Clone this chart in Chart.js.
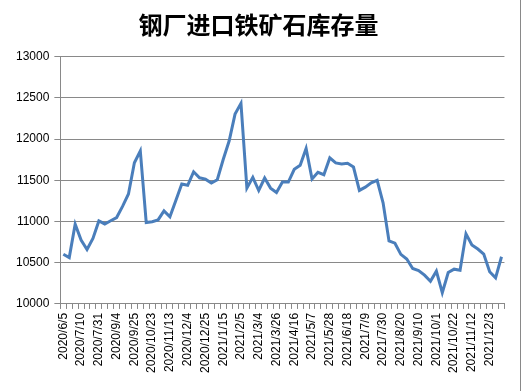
<!DOCTYPE html>
<html>
<head>
<meta charset="utf-8">
<script src="https://cdn.jsdelivr.net/npm/chart.js@4/dist/chart.umd.min.js"></script>
<style>
    html, body { margin: 0; padding: 0; background: #fff; }
    #wrap { width: 520px; height: 391px; border-right: 1px solid #898989; }
</style>
</head>
<body>
<div id="wrap"><canvas id="stock-target" width="520" height="391"></canvas></div>
<script>
// weekly dates (only every 3rd one is labelled on the axis)
const dates = [
    '2020/6/5', '2020/6/19', '2020/7/3', '2020/7/10', '2020/7/17', '2020/7/24',
    '2020/7/31', '2020/8/14', '2020/8/28', '2020/9/4', '2020/9/11', '2020/9/18',
    '2020/9/25', '2020/10/9', '2020/10/16', '2020/10/23', '2020/10/30', '2020/11/6',
    '2020/11/13', '2020/11/20', '2020/11/27', '2020/12/4', '2020/12/11', '2020/12/18',
    '2020/12/25', '2021/1/1', '2021/1/8', '2021/1/15', '2021/1/22', '2021/1/29',
    '2021/2/5', '2021/2/19', '2021/2/26', '2021/3/4', '2021/3/12', '2021/3/19',
    '2021/3/26', '2021/4/2', '2021/4/9', '2021/4/16', '2021/4/23', '2021/4/30',
    '2021/5/7', '2021/5/14', '2021/5/21', '2021/5/28', '2021/6/4', '2021/6/11',
    '2021/6/18', '2021/6/25', '2021/7/2', '2021/7/9', '2021/7/16', '2021/7/23',
    '2021/7/30', '2021/8/6', '2021/8/13', '2021/8/20', '2021/8/27', '2021/9/3',
    '2021/9/10', '2021/9/17', '2021/9/24', '2021/10/1', '2021/10/8', '2021/10/15',
    '2021/10/22', '2021/10/29', '2021/11/5', '2021/11/12', '2021/11/19', '2021/11/26',
    '2021/12/3', '2021/12/10', '2021/12/17',
]
const stock = [
    10604, 10563, 10967, 10775, 10661, 10796,
    11008, 10971, 11010, 11049, 11184, 11335,
    11714, 11857, 10988, 10998, 11020, 11130,
    11057, 11257, 11457, 11441, 11604, 11531,
    11515, 11468, 11508, 11753, 11977, 12304,
    12435, 11406, 11537, 11377, 11528, 11406,
    11353, 11480, 11480, 11635, 11684, 11888,
    11516, 11598, 11569, 11773, 11712, 11700,
    11708, 11662, 11378, 11418, 11471, 11500,
    11227, 10765, 10737, 10602, 10545, 10430,
    10406, 10349, 10275, 10398, 10137, 10381,
    10422, 10410, 10851, 10716, 10667, 10606,
    10390, 10316, 10573,
]
const yTicks = { min: 10000, max: 13000, step: 500 }

window.onload = () => {
    let target = document.getElementById('stock-target');
    let content = new Chart(target, {
        type: 'line',
        data: {
            labels: dates,
            datasets: [{
                data: stock,
                borderColor: '#4A7EBB',
                borderWidth: 3,
                pointRadius: 0,
                tension: 0,
            }],
        },
        options: {
            responsive: false,
            animation: false,
            layout: {
                padding: { left: 11, right: 14, top: 0, bottom: 14 },
            },
            plugins: {
                legend: { display: false },
                tooltip: { enabled: false },
                title: {
                    display: true,
                    text: '钢厂进口铁矿石库存量',
                    color: '#000',
                    font: { family: 'Noto Sans CJK SC', size: 24, weight: 'bold' },
                    padding: { top: 10, bottom: 18 },
                },
            },
            scales: {
                x: {
                    offset: true,
                    grid: {
                        offset: true,
                        drawOnChartArea: false,
                        tickLength: 5,
                        color: '#898989',
                    },
                    border: { color: '#898989' },
                    ticks: {
                        autoSkip: false,
                        minRotation: 90,
                        maxRotation: 90,
                        padding: 4,
                        color: '#000',
                        font: { family: 'Liberation Sans', size: 12 },
                        callback: function (value, index) {
                            return index % 3 === 0 ? this.getLabelForValue(value) : '';
                        },
                    },
                },
                y: {
                    min: yTicks.min,
                    max: yTicks.max,
                    grid: {
                        color: '#898989',
                        tickLength: 6,
                    },
                    border: { color: '#898989' },
                    ticks: {
                        stepSize: yTicks.step,
                        padding: 5,
                        color: '#000',
                        font: { family: 'Liberation Sans', size: 12 },
                        callback: (value) => String(value),
                    },
                },
            },
        },
    });
}
</script>
</body>
</html>
